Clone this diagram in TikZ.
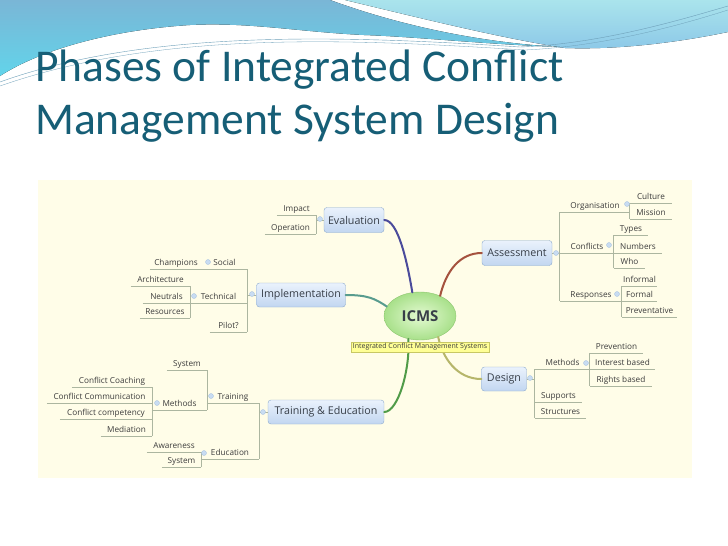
\documentclass[tikz,border=0pt]{standalone}
\usepackage{fontspec}
\setmainfont{Open Sans}
\newfontfamily\titlefont{Carlito}
\usetikzlibrary{shapes.geometric}

\definecolor{titleblue}{RGB}{22,94,118}
\definecolor{cream}{RGB}{255,253,232}
\definecolor{waveblue}{RGB}{122,182,214}
\definecolor{wavecyan}{RGB}{98,212,234}
\definecolor{wavelight}{RGB}{170,228,236}
\definecolor{wavemid}{RGB}{140,200,232}
\definecolor{wavethin}{RGB}{110,160,185}
\definecolor{topicline}{RGB}{140,170,205}
\definecolor{topictop}{RGB}{234,242,252}
\definecolor{topicbot}{RGB}{194,214,240}
\definecolor{topictext}{RGB}{55,62,72}
\definecolor{leaftext}{RGB}{60,60,60}
\definecolor{branchc}{RGB}{172,182,160}
\definecolor{knobfill}{RGB}{200,220,242}
\definecolor{knobline}{RGB}{165,192,222}
\definecolor{icmsin}{RGB}{228,250,210}
\definecolor{icmsout}{RGB}{168,224,138}
\definecolor{icmsline}{RGB}{140,198,110}
\definecolor{notefill}{RGB}{255,255,150}
\definecolor{noteline}{RGB}{200,200,100}
\definecolor{evalc}{RGB}{75,75,155}
\definecolor{assessc}{RGB}{165,82,62}
\definecolor{implc}{RGB}{88,156,142}
\definecolor{trainc}{RGB}{80,155,72}
\definecolor{designc}{RGB}{182,182,106}

\tikzset{
  topic/.style={draw=topicline, rounded corners=3pt, top color=topictop,
    bottom color=topicbot, text=topictext, inner sep=0pt, minimum height=24pt,
    font=\fontsize{10.7}{12}\selectfont},
  leaf/.style={anchor=south, inner xsep=0pt, inner ysep=1.6pt, text height=6.2pt,
    text depth=1.8pt, text=leaftext, font=\fontsize{8.2}{9}\selectfont},
  branch/.style={draw=branchc, line width=0.7pt},
  knob/.style={circle, fill=knobfill, draw=knobline, line width=0.3pt,
    inner sep=0pt, minimum size=5pt},
  link/.style={line width=2pt, line cap=round},
  notebox/.style={draw=noteline, fill=notefill, inner xsep=2pt, inner ysep=1.5pt,
    font=\fontsize{7}{8}\selectfont, text=leaftext}
}

\begin{document}
\begin{tikzpicture}[x=1pt,y=-1pt]
  \useasboundingbox (0,0) rectangle (728,546);
  \fill[white] (0,0) rectangle (728,546);

  % top waves
  \fill[top color=wavelight, bottom color=wavemid]
    (345,0) -- (728,0) -- (728,32) .. controls (680,42) and (620,50) .. (565,48)
    .. controls (500,38) and (420,18) .. (345,0) -- cycle;
  \fill[top color=waveblue, bottom color=wavecyan]
    (0,0) -- (330,0) .. controls (390,22) and (470,42) .. (560,47)
    .. controls (480,44) and (420,37) .. (364,35)
    .. controls (300,32) and (250,22) .. (190,25)
    .. controls (110,30) and (40,50) .. (0,76) -- cycle;
  \draw[wavethin, line width=0.4pt] (0,82) .. controls (150,28) and (350,36) .. (520,47)
    .. controls (600,44) and (680,20) .. (728,6);
  \draw[wavethin, line width=0.3pt] (0,86) .. controls (160,30) and (350,39) .. (525,50)
    .. controls (610,46) and (690,22) .. (728,10);

  % title
  \node[anchor=base west, inner sep=0pt, text=titleblue,
    font=\titlefont\fontsize{45.5}{50}\selectfont] (title1) at (35,81)
    {Phases of Integrated Conflict};
  \node[anchor=base west, inner sep=0pt, text=titleblue,
    font=\titlefont\fontsize{45.5}{50}\selectfont] (title2) at (35,134)
    {Management System Design};

  % map area
  \fill[cream] (38,180) rectangle (692,478);

  % main topics
  \node[topic, minimum width=60pt, minimum height=25pt] (evaluation) at (354,220) {Evaluation};
  \node[topic, minimum width=70pt, minimum height=25pt] (assessment) at (517,253) {Assessment};
  \node[topic, minimum width=89pt] (implementation) at (301,295) {Implementation};
  \node[topic, minimum width=116pt] (traineduc) at (326,412) {Training \& Education};
  \node[topic, minimum width=45pt] (design) at (504,379) {Design};
  \node[ellipse, draw=icmsline, inner color=icmsin, outer color=icmsout,
    minimum width=72pt, minimum height=48pt, inner sep=0pt, text=topictext,
    font=\bfseries\fontsize{15}{16}\selectfont] (icms) at (420,316) {ICMS};

  % Evaluation
  \node[leaf, minimum width=39pt] (impact) at (296.5,215) {Impact};
  \node[leaf, minimum width=51pt] (operation) at (290.5,234) {Operation};
  % Implementation
  \node[leaf, minimum width=45pt] (social) at (224.5,269) {Social};
  \node[leaf, minimum width=52pt] (champions) at (176,269) {Champions};
  \node[leaf, minimum width=57pt] (technical) at (218.5,303) {Technical};
  \node[leaf, minimum width=59pt] (architecture) at (160.5,286) {Architecture};
  \node[leaf, minimum width=47pt] (neutrals) at (166.5,303) {Neutrals};
  \node[leaf, minimum width=50pt] (resources) at (165,318) {Resources};
  \node[leaf, minimum width=37pt] (pilot) at (228.5,332) {Pilot?};
  % Training & Education
  \node[leaf, minimum width=52pt] (training) at (233,403) {Training};
  \node[leaf, minimum width=40pt] (system1) at (187,370) {System};
  \node[leaf, minimum width=55pt] (methods1) at (179.5,410) {Methods};
  \node[leaf, minimum width=80pt] (coaching) at (112,387) {Conflict Coaching};
  \node[leaf, minimum width=105pt] (communication) at (99.5,403) {Conflict Communication};
  \node[leaf, minimum width=92pt] (competency) at (106,419) {Conflict competency};
  \node[leaf, minimum width=51pt] (mediation) at (126.5,436) {Mediation};
  \node[leaf, minimum width=58pt] (education) at (230,459) {Education};
  \node[leaf, minimum width=54pt] (awareness) at (174,452) {Awareness};
  \node[leaf, minimum width=39pt] (system2) at (181.5,467) {System};
  % Assessment
  \node[leaf, minimum width=70pt] (organisation) at (595,212) {Organisation};
  \node[leaf, minimum width=42pt] (culture) at (651,203) {Culture};
  \node[leaf, minimum width=42pt] (mission) at (651,219) {Mission};
  \node[leaf, minimum width=54pt] (conflicts) at (587,253) {Conflicts};
  \node[leaf, minimum width=34pt] (types) at (631,235) {Types};
  \node[leaf, minimum width=48pt] (numbers) at (638,253) {Numbers};
  \node[leaf, minimum width=31pt] (who) at (629.5,268) {Who};
  \node[leaf, minimum width=62pt] (responses) at (591,301) {Responses};
  \node[leaf, minimum width=35pt] (informal) at (639.5,286) {Informal};
  \node[leaf, minimum width=35pt] (formal) at (639.5,301) {Formal};
  \node[leaf, minimum width=55pt] (preventative) at (649.5,317) {Preventative};
  % Design
  \node[leaf, minimum width=55pt] (methods2) at (562.5,369) {Methods};
  \node[leaf, minimum width=53pt] (prevention) at (616.5,353) {Prevention};
  \node[leaf, minimum width=65pt] (interest) at (622.5,369) {Interest based};
  \node[leaf, minimum width=62pt] (rights) at (621,386) {Rights based};
  \node[leaf, minimum width=47pt] (supports) at (558.5,402) {Supports};
  \node[leaf, minimum width=51pt] (structures) at (560.5,418) {Structures};

  % underlines
  \foreach \n in {impact,operation,social,champions,technical,architecture,
      neutrals,resources,pilot,training,system1,methods1,coaching,communication,
      competency,mediation,education,awareness,system2,organisation,culture,
      mission,conflicts,types,numbers,who,responses,informal,formal,preventative,
      methods2,prevention,interest,rights,supports,structures}
    \draw[branch] (\n.south west) -- (\n.south east);

  % brackets
  \draw[branch] (evaluation.west) -- (impact.south east |- evaluation.west);
  \draw[branch] (impact.south east) -- (operation.south east);
  \draw[branch] (implementation.west) -- (social.south east |- implementation.west);
  \draw[branch] (social.south east) -- (pilot.south east);
  \draw[branch] (architecture.south east) -- (resources.south east);
  \draw[branch] (traineduc.west) -- (training.south east |- traineduc.west);
  \draw[branch] (training.south east) -- (education.south east);
  \draw[branch] (system1.south east) -- (methods1.south east);
  \draw[branch] (coaching.south east) -- (mediation.south east);
  \draw[branch] (awareness.south east) -- (system2.south east);
  \draw[branch] (assessment.east) -- (organisation.south west |- assessment.east);
  \draw[branch] (organisation.south west) -- (responses.south west);
  \draw[branch] (culture.south west) -- (mission.south west);
  \draw[branch] (types.south west) -- (who.south west);
  \draw[branch] (informal.south west) -- (preventative.south west);
  \draw[branch] (design.east) -- (methods2.south west |- design.east);
  \draw[branch] (methods2.south west) -- (structures.south west);
  \draw[branch] (prevention.south west) -- (rights.south west);

  % collapse knobs
  \foreach \x/\y [count=\i] in {320/219,252/294,208/262,194/296,263/412,211/396,
      157/403,204/453,556/253,627/204,609/245,617/294,530/378,586/363}
    \node[knob] (knob\i) at (\x,\y) {};

  % links from the centre
  \draw[link, evalc] (evaluation.east) .. controls +(14,0) and +(-5,-30) .. (icms.108);
  \draw[link, assessc] (assessment.west) .. controls +(-22,0) and +(6,-25) .. (icms.45);
  \draw[link, implc] (implementation.east) .. controls +(22,0) and +(-12,-8) .. (icms.164);
  \draw[link, trainc] (traineduc.east) .. controls +(14,0) and +(2,30) .. (icms.243);
  \draw[link, designc] (design.west) .. controls +(-25,0) and +(4,20) .. (icms.311);

  \node[notebox] (icmsnote) at (420,347) {Integrated Conflict Management Systems};
\end{tikzpicture}
\end{document}
